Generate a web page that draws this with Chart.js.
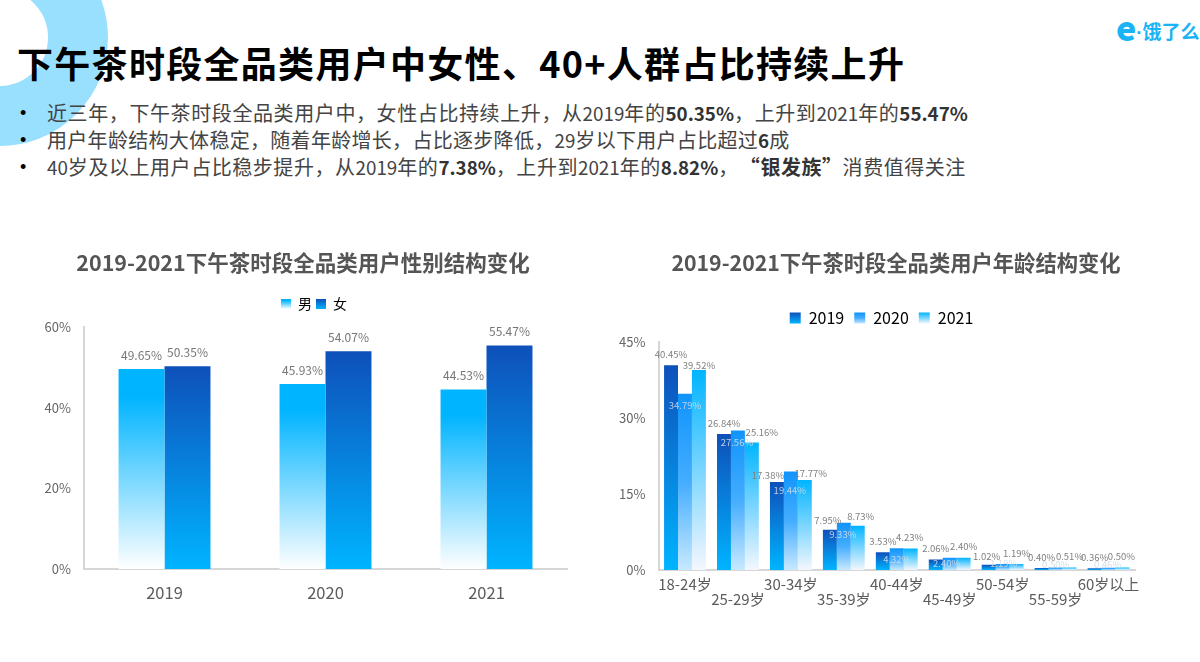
<!DOCTYPE html>
<html lang="zh-CN"><head><meta charset="utf-8">
<script src="https://cdn.jsdelivr.net/npm/chart.js@4/dist/chart.umd.min.js"></script>
<style>
html,body{margin:0;padding:0;background:#fff;overflow:hidden;width:1200px;height:662px;font-family:"Noto Sans CJK SC","Noto Sans",sans-serif}
.abs{position:absolute;white-space:nowrap}
#ring{left:-109px;top:-71px;width:97px;height:97px;border:60px solid #99e0ff;border-radius:50%;box-sizing:content-box}
#title{left:17px;top:35px;font-size:36px;font-weight:700;color:#000;line-height:54px;letter-spacing:1.3px}
#logo{left:1116px;top:10px;font-size:19px;font-weight:700;color:#1cb3f5;line-height:34px}
#logo b{font-size:34px;line-height:34px;vertical-align:-2px}
#logo i{font:700 19px "Liberation Sans";}
.bl{left:47px;font-size:20px;letter-spacing:.55px;color:#444;line-height:26px}
.bl b{color:#333}
.bl span,.bl b.n{font-size:18.8px;letter-spacing:0}
.dot{font-family:"Liberation Sans";left:20px;font-size:18px;color:#000;line-height:26px}
canvas{position:absolute;top:240px}
</style></head><body>
<div id="ring" class="abs"></div>
<div id="title" class="abs">下午茶时段全品类用户中女性、40+人群占比持续上升</div>
<div id="logo" class="abs"><b>e</b><i>·</i>饿了么</div>
<div class="abs dot" style="top:100px">•</div>
<div class="abs dot" style="top:127px">•</div>
<div class="abs dot" style="top:154px">•</div>
<div class="abs bl" style="top:100px;letter-spacing:.6px">近三年，下午茶时段全品类用户中，女性占比持续上升，从<span>2019</span>年的<b class="n">50.35%</b>，上升到<span>2021</span>年的<b class="n">55.47%</b></div>
<div class="abs bl" style="top:127px;letter-spacing:.3px">用户年龄结构大体稳定，随着年龄增长，占比逐步降低，<span>29</span>岁以下用户占比超过<b class="n">6</b>成</div>
<div class="abs bl" style="top:154px"><span>40</span>岁及以上用户占比稳步提升，从<span>2019</span>年的<b class="n">7.38%</b>，上升到<span>2021</span>年的<b class="n">8.82%</b>，<b style="margin-left:11px">“银发族”</b>消费值得关注</div>
<canvas id="c1" width="606" height="380" style="left:0"></canvas>
<canvas id="c2" width="568" height="380" style="left:612px"></canvas>
<script>
const FONT = '"Noto Sans CJK SC","Noto Sans",sans-serif';
const genderYears = ['2019','2020','2021'];
const male = [49.65,45.93,44.53];
const female = [50.35,54.07,55.47];
const ageGroups = ['18-24岁','25-29岁','30-34岁','35-39岁','40-44岁','45-49岁','50-54岁','55-59岁','60岁以上'];
const age2019 = [40.45,26.84,17.38,7.95,3.53,2.06,1.02,0.40,0.36];
const age2020 = [34.79,27.56,19.44,9.33,4.32,2.40,1.19,0.50,0.46];
const age2021 = [39.52,25.16,17.77,8.73,4.23,2.40,1.19,0.51,0.50];
// hand placement of the value labels, as nudges from each bar's top centre
const nudge2019 = [[0,-11],[0,-11],[-9,-7],[-2,-9],[0,-11],[0,-11],[-2,-8],[0,-11],[0,-11]];
const nudge2020 = [[0,12],[-1,12],[-1,19],[-1,12],[0,11],[-3,6],[1,-1],[0,-3.5],[-1,-3]];
const nudge2021 = [[0,-5],[10,-10],[6,-7],[3,-9],[-1,-11],[0,-11],[0,-11],[0,-11],[-1,-11]];

function barFill(stops){
  return function(ctx){
    if(ctx.type!=='data'||!ctx.chart.scales.y) return stops[0][1];
    const y=ctx.chart.scales.y, g=ctx.chart.ctx.createLinearGradient(0,y.getPixelForValue(ctx.raw),0,y.getPixelForValue(0));
    stops.forEach(s=>g.addColorStop(s[0],s[1]));
    return g;
  };
}
function legendFill(chart,stops,top,h){
  const g=chart.ctx.createLinearGradient(0,top,0,top+h);
  stops.forEach(s=>g.addColorStop(s[0],s[1]));
  return g;
}
const valueLabels={
  id:'valueLabels',
  afterDatasetsDraw(chart,args,opts){
    const c=chart.ctx; c.save();
    c.textAlign='center'; c.textBaseline='middle'; c.font=opts.size+'px '+FONT;
    chart.data.datasets.forEach((ds,i)=>{
      chart.getDatasetMeta(i).data.forEach((bar,j)=>{
        const n=ds.nudge?ds.nudge[j]:[0,opts.dy];
        c.fillStyle=ds.labelColor;
        c.fillText(ds.data[j].toFixed(2)+'%',bar.x+n[0],bar.y+n[1]);
      });
    });
    c.restore();
  }
};
const placeBoxes={
  id:'placeBoxes',
  afterLayout(chart,args,opts){
    const l=chart.legend, t=chart.titleBlock;
    l.left+=opts.dx; l.right+=opts.dx; const h=l.height; l.top=opts.top; l.bottom=opts.top+h;
    t.left+=opts.titleDx; t.right+=opts.titleDx;
  }
};
function baseOptions(cfg){
  return {
    responsive:false,animation:false,
    layout:{padding:{left:0,right:cfg.right,top:0,bottom:0}},
    plugins:{
      title:{display:true,text:cfg.title,color:'#555',font:{family:FONT,size:cfg.titleSize,weight:'700'},padding:{top:10,bottom:cfg.titleBottom}},
      legend:{display:true,labels:{boxWidth:cfg.boxW,boxHeight:cfg.boxW,padding:cfg.legPad,color:'#555',font:{family:FONT,size:cfg.legSize},
        generateLabels(chart){return chart.data.datasets.map((d,i)=>({text:d.label,fillStyle:legendFill(chart,d.stops,cfg.legBox,cfg.boxW),strokeStyle:'transparent',lineWidth:0,datasetIndex:i}));}}},
      tooltip:{enabled:false},
      valueLabels:{size:cfg.labelSize,dy:-14},
      placeBoxes:{dx:cfg.legDx,top:cfg.legTop,titleDx:cfg.right/2}
    },
    scales:{
      x:{grid:{display:false,drawTicks:false},border:{color:'#d6d6d6',width:2},
         afterFit(s){s.height=cfg.xH;},
         ticks:{autoSkip:false,maxRotation:0,minRotation:0,padding:cfg.xPad,color:'#5c5c5c',font:{family:FONT,size:cfg.xSize,lineHeight:1.0},callback:cfg.xTick}},
      y:{min:0,max:cfg.max,grid:{display:false,drawTicks:false},border:{color:'#d6d6d6',width:2},
         afterFit(s){s.width=cfg.yW;},
         ticks:{stepSize:cfg.step,padding:13,color:'#666',font:{family:FONT,size:13},callback:v=>v+'%'}}
    }
  };
}
const dark=[[0,'#0e50ba'],[1,'#00b4ff']];
const fade=[[0,'#00b4ff'],[0.14,'#00b4ff'],[1,'#ffffff']];
const mid=[[0,'#1094fb'],[0.5,'#44adff'],[1,'#c8e9ff']];
const fade2=[[0,'#00b4ff'],[1,'#f4f7fd']];
new Chart(document.getElementById('c1'),{
  type:'bar',
  data:{labels:genderYears,datasets:[
    {label:'男',data:male,stops:fade,labelColor:'#777',backgroundColor:barFill(fade),barPercentage:1,categoryPercentage:0.571},
    {label:'女',data:female,stops:dark,labelColor:'#777',backgroundColor:barFill(dark),barPercentage:1,categoryPercentage:0.571}
  ]},
  options:baseOptions({title:'2019-2021下午茶时段全品类用户性别结构变化',titleSize:21.5,titleBottom:23.5,right:39,boxW:10,legPad:4,legSize:14,legDx:30.5,legTop:53,legBox:59,labelSize:12,xH:51,xPad:15,xSize:16.5,yW:84,max:60,step:20,xTick(v){return this.getLabelForValue(v);}}),
  plugins:[valueLabels,placeBoxes]
});
new Chart(document.getElementById('c2'),{
  type:'bar',
  data:{labels:ageGroups,datasets:[
    {label:'2019',data:age2019,nudge:nudge2019,stops:dark,labelColor:'#808080',backgroundColor:barFill(dark),barPercentage:1,categoryPercentage:0.79},
    {label:'2020',data:age2020,nudge:nudge2020,stops:mid,labelColor:'rgba(205,218,232,.9)',backgroundColor:barFill(mid),barPercentage:1,categoryPercentage:0.79},
    {label:'2021',data:age2021,nudge:nudge2021,stops:fade2,labelColor:'#808080',backgroundColor:barFill(fade2),barPercentage:1,categoryPercentage:0.79}
  ]},
  options:baseOptions({title:'2019-2021下午茶时段全品类用户年龄结构变化',titleSize:21.3,titleBottom:30.6,right:45,boxW:11,legPad:10,legSize:16,legDx:8,legTop:60,legBox:72.5,labelSize:9.5,xH:50,xPad:7,xSize:15,yW:46.5,max:45,step:15,xTick(v,i){const t=this.getLabelForValue(v);return i%2?['',t]:t;}}),
  plugins:[valueLabels,placeBoxes]
});
</script>
</body></html>
